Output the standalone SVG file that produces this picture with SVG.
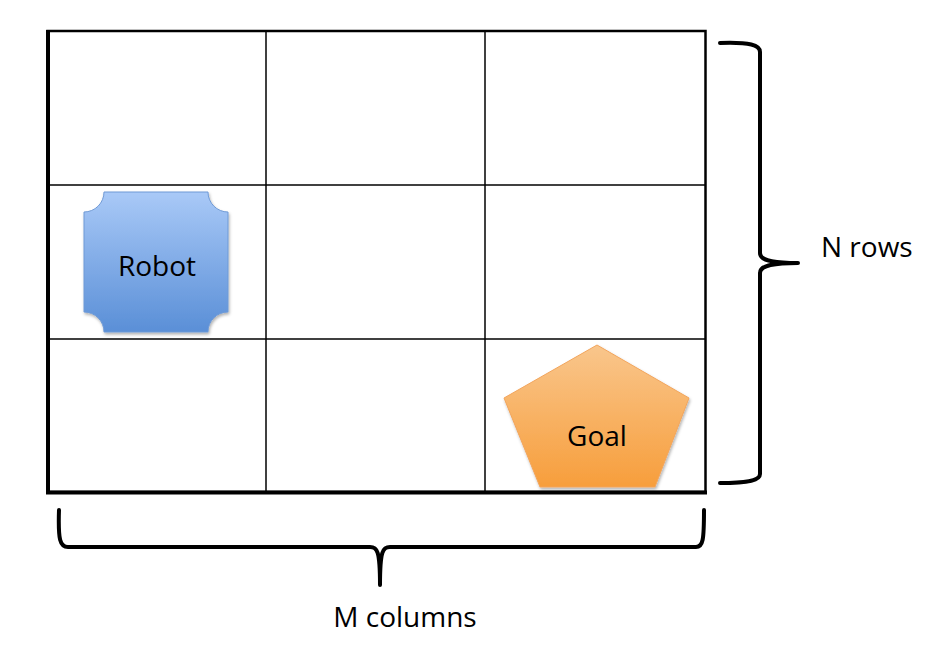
<svg xmlns="http://www.w3.org/2000/svg" width="936" height="654" viewBox="0 0 936 654">
<defs>
<linearGradient id="gBlue" x1="0" y1="0" x2="0" y2="1">
<stop offset="0" stop-color="#a9c9f7"/>
<stop offset="1" stop-color="#5a8fd7"/>
</linearGradient>
<linearGradient id="gOrange" x1="0" y1="0" x2="0" y2="1">
<stop offset="0" stop-color="#f9c68c"/>
<stop offset="1" stop-color="#f79e3c"/>
</linearGradient>
<filter id="sh" x="-10%" y="-10%" width="130%" height="130%">
<feDropShadow dx="1" dy="2" stdDeviation="1.5" flood-color="#000" flood-opacity="0.3"/>
</filter>
</defs>
<style>
.grid{fill:none;stroke:#000;stroke-width:1.5}
.brace{fill:none;stroke:#000;stroke-width:4;stroke-linecap:round;stroke-linejoin:round}
.lbl{font-family:"Open Sans","Liberation Sans",sans-serif;font-size:28px;fill:#000}
</style>
<rect width="936" height="654" fill="#fff"/>
<g id="grid">
<line class="grid" x1="266" y1="31" x2="266" y2="492"/>
<line class="grid" x1="485" y1="31" x2="485" y2="492"/>
<line class="grid" x1="48" y1="185" x2="705" y2="185"/>
<line class="grid" x1="48" y1="339" x2="705" y2="339"/>
<rect x="47.5" y="31" width="658" height="461" fill="none" stroke="#000" stroke-width="2.5"/>
<line x1="48" y1="30" x2="48" y2="494" stroke="#000" stroke-width="4"/>
<line x1="46" y1="492.5" x2="707" y2="492.5" stroke="#000" stroke-width="4"/>
</g>
<g id="robot">
<path d="M104 192 L208 192 A20 20 0 0 0 228 212 L228 312 A20 20 0 0 0 208 332 L104 332 A20 20 0 0 0 84 312 L84 212 A20 20 0 0 0 104 192 Z" fill="url(#gBlue)" stroke="#6f9ad6" stroke-width="1" filter="url(#sh)"/>
<text class="lbl" x="157" y="276" text-anchor="middle">Robot</text>
</g>
<g id="goal">
<polygon points="597,345 689,398 655,487 540,487 504,398" fill="url(#gOrange)" stroke="#f2a55c" stroke-width="1" filter="url(#sh)"/>
<text class="lbl" x="597" y="446" text-anchor="middle">Goal</text>
</g>
<g id="connectors">
<path class="brace" d="M720 43 C750 42 760 45 760 52 L760 253 C760 260 770 263 798 263 C770 263 760 266 760 273 L760 474 C760 480 750 483 720 483"/>
<path class="brace" d="M59 510 C58 540 60 547 68 547 L370 547 C377 547 380 550 380 585 C380 550 383 547 390 547 L696 547 C703 547 704 540 704 510"/>
</g>
<g id="labels">
<text class="lbl" x="821" y="257">N rows</text>
<text class="lbl" x="405" y="627" text-anchor="middle">M columns</text>
</g>
</svg>
